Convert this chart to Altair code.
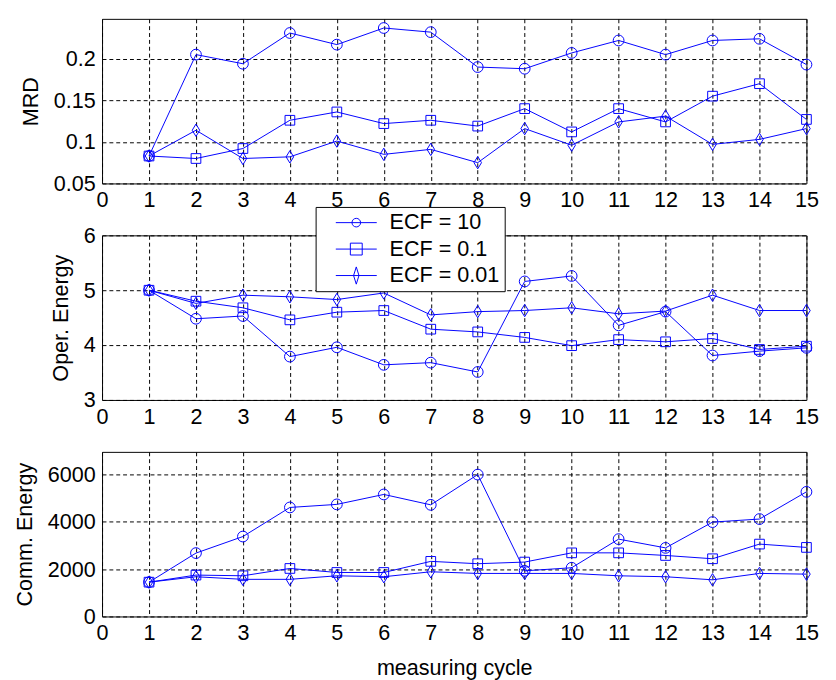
import altair as alt
import pandas as pd

cycles = list(range(1, 16))
series_names = ["ECF = 10", "ECF = 0.1", "ECF = 0.01"]

mrd_10 = [0.083, 0.205, 0.194, 0.231, 0.217, 0.237, 0.232, 0.190, 0.188, 0.207, 0.222, 0.205, 0.222, 0.224, 0.193]
mrd_01 = [0.083, 0.080, 0.092, 0.126, 0.136, 0.122, 0.126, 0.119, 0.140, 0.112, 0.140, 0.124, 0.155, 0.170, 0.127]
mrd_001 = [0.083, 0.114, 0.080, 0.082, 0.101, 0.085, 0.091, 0.075, 0.116, 0.096, 0.124, 0.131, 0.097, 0.103, 0.116]

oper_10 = [5.0, 4.48, 4.53, 3.79, 3.96, 3.64, 3.68, 3.51, 5.16, 5.26, 4.36, 4.61, 3.81, 3.89, 3.95]
oper_01 = [5.0, 4.80, 4.68, 4.46, 4.60, 4.63, 4.29, 4.24, 4.14, 3.99, 4.10, 4.06, 4.12, 3.92, 3.98]
oper_001 = [5.0, 4.76, 4.91, 4.88, 4.83, 4.95, 4.55, 4.61, 4.63, 4.68, 4.57, 4.62, 4.91, 4.63, 4.63]

comm_10 = [1450, 2680, 3380, 4610, 4740, 5160, 4720, 6000, 1930, 2060, 3270, 2900, 3990, 4120, 5270]
comm_01 = [1450, 1750, 1720, 2030, 1860, 1860, 2330, 2230, 2300, 2690, 2690, 2580, 2440, 3060, 2920]
comm_001 = [1450, 1680, 1570, 1570, 1720, 1680, 1890, 1820, 1820, 1820, 1720, 1680, 1550, 1820, 1790]

x_ticks = list(range(0, 16))
mrd_ticks = [0.05, 0.1, 0.15, 0.2]
oper_ticks = [3, 4, 5, 6]
comm_ticks = [0, 2000, 4000, 6000]

rows = []
for metric, lists in [("mrd", [mrd_10, mrd_01, mrd_001]),
                      ("oper", [oper_10, oper_01, oper_001]),
                      ("comm", [comm_10, comm_01, comm_001])]:
    for name, vals in zip(series_names, lists):
        for c, v in zip(cycles, vals):
            rows.append({"metric": metric, "series": name, "cycle": c, "value": v})
df = pd.DataFrame(rows)

FONT = "Liberation Sans"
BLUE = "#0000ff"

marker_paths = [
    "M-1,0A1,1,0,1,0,1,0A1,1,0,1,0,-1,0Z",
    "M-0.9,-0.9H0.9V0.9H-0.9Z",
    "M0,-1.15L0.7,0L0,1.15L-0.7,0Z",
]
legend_paths = [
    "M-3.8,0H3.8M-0.8,0A0.8,0.8,0,1,0,0.8,0A0.8,0.8,0,1,0,-0.8,0Z",
    "M-3.8,0H3.8M-1.1,-1.1H1.1V1.1H-1.1Z",
    "M-3.8,0H3.8M0,-1.6L0.5,0L0,1.6L-0.5,0Z",
]

legend = alt.Legend(
    title=None,
    orient="none",
    legendX=218,
    legendY=192,
    direction="vertical",
    fillColor="white",
    strokeColor="black",
    padding=5,
    cornerRadius=0,
    labelFont=FONT,
    labelFontSize=22,
    labelColor="black",
    labelExpr="datum.label + '\u00a0\u00a0\u00a0\u00a0\u00a0'",
    symbolSize=121,
    symbolStrokeWidth=1,
    symbolStrokeColor=BLUE,
    symbolFillColor="transparent",
    symbolOpacity=1,
    symbolOffset=25.5,
    labelOffset=23,
    rowPadding=5,
)


def panel(metric, ytitle, domain, ticks, yfmt, xtitle=None, with_legend=False):
    base = alt.Chart(df[df.metric == metric])
    xenc = alt.X("cycle:Q",
                 scale=alt.Scale(domain=[0, 15], nice=False, zero=False),
                 axis=alt.Axis(values=x_ticks, format="d", title=xtitle,
                               labelFlush=False, labelOverlap=False,
                               titlePadding=14))
    yenc = alt.Y("value:Q",
                 scale=alt.Scale(domain=domain, nice=False, zero=False),
                 axis=alt.Axis(values=ticks, format=yfmt, title=ytitle,
                               labelFlush=False, labelOverlap=False,
                               titlePadding=11))
    layers = [base.mark_line(color=BLUE, strokeWidth=1).encode(
        x=xenc, y=yenc, detail="series:N", order="cycle:Q")]
    for name, path in zip(series_names, marker_paths):
        layers.append(
            base.transform_filter(alt.datum.series == name)
            .mark_point(shape=path, filled=False, color=BLUE, size=121,
                        strokeWidth=1, opacity=1)
            .encode(x=xenc, y=yenc))
    if with_legend:
        layers.append(
            base.mark_point(filled=False, color=BLUE, size=121,
                            strokeWidth=1, opacity=0)
            .encode(x=xenc, y=yenc,
                    shape=alt.Shape("series:N",
                                    scale=alt.Scale(domain=series_names, range=legend_paths),
                                    legend=legend)))
    return alt.layer(*layers).properties(width=719, height=168)


p1 = panel("mrd", "MRD", [0.05, 0.248], mrd_ticks, "~g")
p2 = panel("oper", "Oper. Energy", [3, 6], oper_ticks, "d", with_legend=True)
p3 = panel("comm", "Comm. Energy", [0, 6960], comm_ticks, "d", xtitle="measuring cycle")

chart = alt.vconcat(p1, p2, p3, spacing=53, bounds="flush").properties(
    padding={"left": 5, "top": 3, "right": 0, "bottom": 5},
    background="white",
).configure_view(
    stroke="black", strokeWidth=1
).configure_axis(
    labelFont=FONT, labelFontSize=22, labelColor="black",
    titleFont=FONT, titleFontSize=22, titleFontWeight="normal", titleColor="black",
    grid=True, gridColor="black", gridDash=[4, 3], gridOpacity=1, gridWidth=1,
    domain=False, ticks=False, tickSize=0, labelPadding=7,
)

chart.save("out.html", embed_options={"renderer": "svg", "actions": False})
